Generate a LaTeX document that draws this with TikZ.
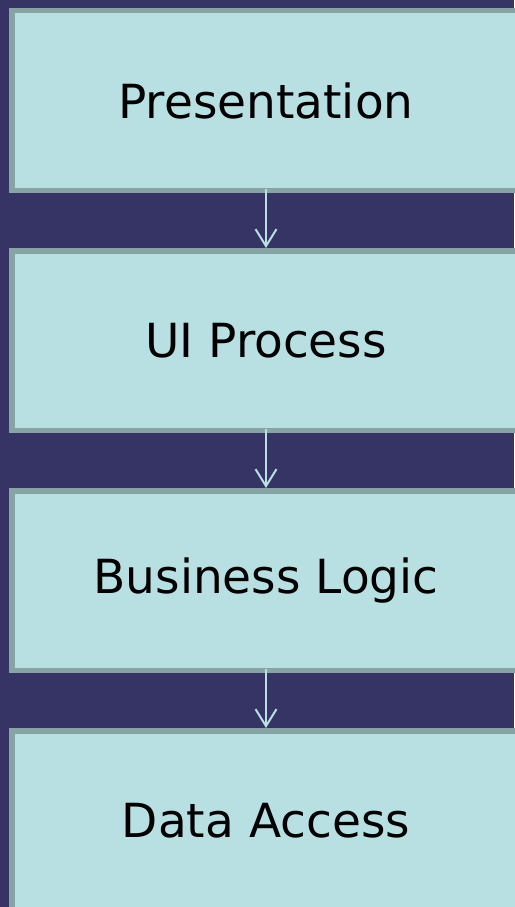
\documentclass[tikz,border=0pt]{standalone}
\usepackage{fontspec}
\setmainfont{DejaVu Sans}
\usepackage{xcolor}
\usepackage{tikz}
\usetikzlibrary{arrows.meta}
\definecolor{navy}{HTML}{363465}
\definecolor{layerfill}{HTML}{B8DFE2}
\definecolor{layeredge}{HTML}{87A3A4}
\tikzset{
  layer/.style={
    draw=layeredge, fill=layerfill, line width=5.5pt,
    minimum width=508.5pt, minimum height=179.5pt,
    inner sep=0pt, font=\fontsize{47}{56}\selectfont
  },
  flow/.style={
    draw=layerfill, line width=2pt,
    -{Straight Barb[length=17pt,width=21pt,line width=2pt]}
  }
}

\begin{document}
\begin{tikzpicture}[x=1pt,y=1pt]
		\fill[navy] (0,0) rectangle (514,-907);
		\useasboundingbox (0,0) rectangle (514,-907);
		\node[layer] (pres) at (266,-100.5) {Presentation};
		\node[layer] (uiproc) at (266,-340.5) {UI Process};
		\node[layer] (logic) at (266,-580.5) {Business Logic};
		\node[layer] (data) at (266,-820.5) {Data Access};
		%
		\draw[flow] ([yshift=4pt]pres.south) -- (uiproc.north);
		\draw[flow] ([yshift=4pt]uiproc.south) -- (logic.north);
		\draw[flow] ([yshift=4pt]logic.south) -- (data.north);
	\end{tikzpicture}
\end{document}
